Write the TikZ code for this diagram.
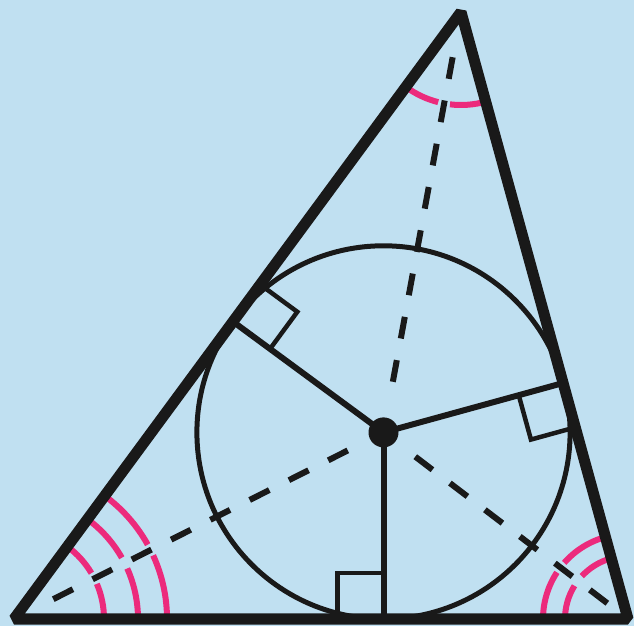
\documentclass[tikz,border=0pt]{standalone}
\usepackage{tikz}
\usetikzlibrary{calc}
\definecolor{bgblue}{RGB}{192,224,241}
\definecolor{markpink}{RGB}{236,42,124}
\tikzset{
    triside/.style={draw=black!90, line width=11pt, line join=bevel},
    incirc/.style={draw=black!90, line width=5pt},
    radline/.style={draw=black!90, line width=6pt},
    bisector/.style={draw=black!90, line width=6pt, dash pattern=on 22pt off 22pt},
    rightmark/.style={draw=black!90, line width=4.5pt, line join=miter},
    anglemark/.style={draw=markpink, line width=6pt}
}

\begin{document}
\begin{tikzpicture}[x=1pt, y=1pt]
    \fill[bgblue] (0,0) rectangle (634,626);
    \useasboundingbox (0,0) rectangle (634,626);
    \coordinate (A) at (14,7);
    \coordinate (B) at (628,7);
    \coordinate (C) at (461,614);
    \coordinate (I) at (383.5,193.6);
    % touching points of the circle
    \coordinate (Ta) at ($(B)!(I)!(C)$);
    \coordinate (Tb) at ($(A)!(I)!(C)$);
    \coordinate (Tc) at ($(A)!(I)!(B)$);

    \draw[incirc] (I) circle[radius=186.6pt];

    % angle bisectors
    \draw[bisector] ($(A)!44pt!(I)$) -- ($(I)!40pt!(A)$);
    \draw[bisector] ($(B)!26pt!(I)$) -- ($(I)!40pt!(B)$);
    \draw[bisector] ($(C)!46pt!(I)$) -- ($(I)!40pt!(C)$);

    % radii
    \draw[radline] (I) -- (Ta);
    \draw[radline] (I) -- (Tb);
    \draw[radline] (I) -- (Tc);

    % right angles
    \coordinate (pa) at ($(Ta)!46pt!(B)$);
    \coordinate (qa) at ($(Ta)!46pt!(I)$);
    \draw[rightmark] (pa) -- ($(pa)+(qa)-(Ta)$) -- (qa);
    \coordinate (pb) at ($(Tb)!46pt!(C)$);
    \coordinate (qb) at ($(Tb)!46pt!(I)$);
    \draw[rightmark] (pb) -- ($(pb)+(qb)-(Tb)$) -- (qb);
    \coordinate (pc) at ($(Tc)!46pt!(A)$);
    \coordinate (qc) at ($(Tc)!46pt!(I)$);
    \draw[rightmark] (pc) -- ($(pc)+(qc)-(Tc)$) -- (qc);

    % equal halves at A
    \draw[anglemark] ([shift={(0:90pt)}]A) arc[start angle=0, end angle=23.0, radius=90pt];
    \draw[anglemark] ([shift={(30.64:90pt)}]A) arc[start angle=30.64, end angle=53.63, radius=90pt];
    \draw[anglemark] ([shift={(0:124pt)}]A) arc[start angle=0, end angle=24.05, radius=124pt];
    \draw[anglemark] ([shift={(29.59:124pt)}]A) arc[start angle=29.59, end angle=53.63, radius=124pt];
    \draw[anglemark] ([shift={(0:153pt)}]A) arc[start angle=0, end angle=24.57, radius=153pt];
    \draw[anglemark] ([shift={(29.07:153pt)}]A) arc[start angle=29.07, end angle=53.63, radius=153pt];
    % equal halves at B
    \draw[anglemark] ([shift={(105.38:85pt)}]B) arc[start angle=105.38, end angle=138.65, radius=85pt];
    \draw[anglemark] ([shift={(146.73:85pt)}]B) arc[start angle=146.73, end angle=180, radius=85pt];
    \draw[anglemark] ([shift={(105.38:63pt)}]B) arc[start angle=105.38, end angle=137.23, radius=63pt];
    \draw[anglemark] ([shift={(148.15:63pt)}]B) arc[start angle=148.15, end angle=180, radius=63pt];
    % equal halves at C
    \draw[anglemark] ([shift={(233.63:93pt)}]C) arc[start angle=233.63, end angle=255.8, radius=93pt];
    \draw[anglemark] ([shift={(263.2:93pt)}]C) arc[start angle=263.2, end angle=285.38, radius=93pt];

    \draw[triside] (A) -- (B) -- (C) -- cycle;
    \fill[black!90] (I) circle[radius=15pt];
\end{tikzpicture}
\end{document}
